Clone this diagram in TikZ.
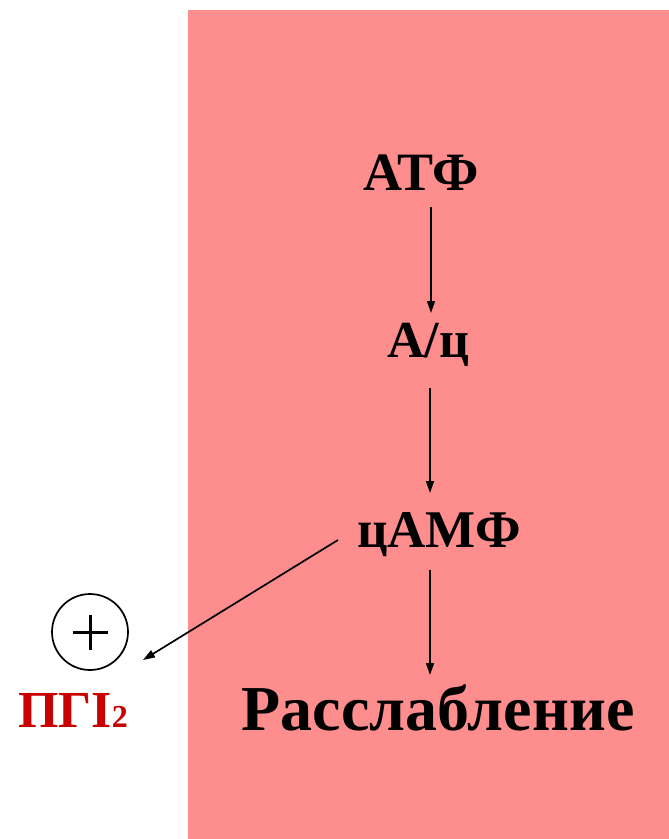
\documentclass[tikz,border=0pt]{standalone}
\usepackage{fontspec}
\setmainfont{Liberation Serif}
\usetikzlibrary{arrows.meta,calc}
\definecolor{pinkedge}{RGB}{254,142,142}
\definecolor{pinkmid}{RGB}{255,157,157}
\definecolor{pgired}{RGB}{200,0,0}
\tikzset{
  lbl/.style={anchor=base,inner sep=0pt,font=\fontsize{53}{53}\selectfont\bfseries},
  arr/.style={line width=1.7pt,-{Triangle[length=12pt,width=8pt]}},
  plusnode/.style={circle,draw,line width=1.7pt,minimum size=76pt,inner sep=0pt,
    path picture={\draw[line width=3pt] ([xshift=-17.5pt]path picture bounding box.center) -- ([xshift=17.5pt]path picture bounding box.center);
                  \draw[line width=3pt] ([yshift=-17.5pt]path picture bounding box.center) -- ([yshift=17.5pt]path picture bounding box.center);}}
}
\begin{document}
\begin{tikzpicture}[x=1pt,y=-1pt]
\useasboundingbox (0,0) rectangle (669,839);
\fill[left color=pinkedge,middle color=pinkmid,right color=pinkedge] (188,10) rectangle (669,839);
\coordinate (ax) at (431,0);
\node[lbl,font=\fontsize{54}{54}\selectfont\bfseries] (atf) at (421,190) {АТФ};
\node[lbl,font=\fontsize{52}{52}\selectfont\bfseries] (ac) at (428,357) {А/ц};
\node[lbl] (camf) at (439,547) {цАМФ};
\node[lbl,font=\fontsize{64}{64}\selectfont\bfseries] (rel) at (438,730) {Расслабление};
\node[plusnode] (plus) at (90,632) {};
\node[lbl,font=\fontsize{52}{52}\selectfont\bfseries,text=pgired,anchor=base west] (pgi) at (18,727) {ПГI\fontsize{32}{32}\selectfont 2};
\draw[arr] ($(atf.base -| ax)+(0,17)$) -- ($(ac.base -| ax)+(0,-44)$);
\draw[arr] ($(ac.base -| ax)+(-1,31)$) -- ($(camf.base -| ax)+(-1,-54)$);
\draw[arr] ($(camf.base -| ax)+(-1,23)$) -- ($(rel.base -| ax)+(-1,-55)$);
\draw[arr] ($(camf.base west)+(-19,-7)$) -- ($(plus.center)+(53,28)$);
\end{tikzpicture}
\end{document}
